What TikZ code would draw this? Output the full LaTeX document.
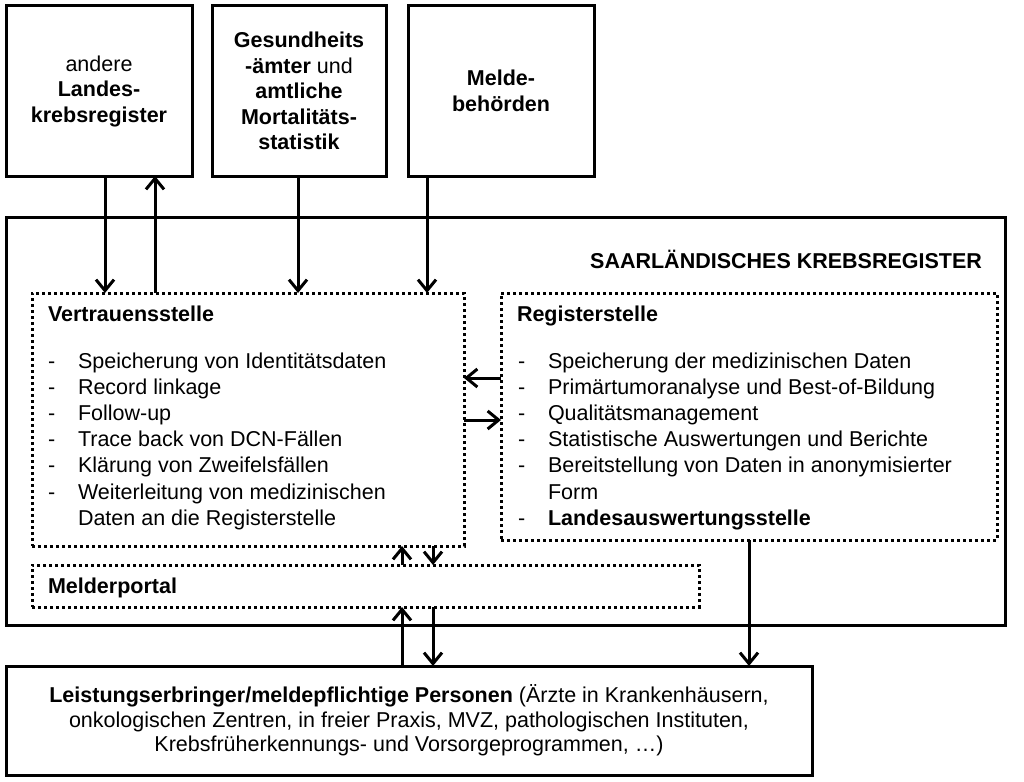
\documentclass[tikz,border=0pt]{standalone}
\usepackage{fontspec}
\setmainfont{Liberation Sans}
\usetikzlibrary{arrows.meta}
\begin{document}
\begin{tikzpicture}[x=1pt,y=-1pt,
  every node/.style={font=\fontsize{21.5}{25.5}\selectfont, inner sep=0pt, outer sep=0pt},
  solidbox/.style={draw, line width=3pt, rectangle, align=center},
  dotbox/.style={draw, line width=3pt, dash pattern=on 3pt off 3pt, rectangle},
  arr/.style={line width=3pt, -{Straight Barb[length=11pt,width=18pt]}},
  txt/.style={anchor=base west},
]
\useasboundingbox (0,0) rectangle (1024,781);

% top boxes
\node[solidbox, minimum width=186pt, minimum height=170pt] (lkr) at (99,91)
  {andere\\\textbf{Landes-}\\\textbf{krebsregister}};
\node[solidbox, minimum width=174pt, minimum height=170pt] (ges) at (299,91)
  {\textbf{Gesundheits}\\\textbf{-ämter} und\\\textbf{amtliche}\\\textbf{Mortalitäts-}\\\textbf{statistik}};
\node[solidbox, minimum width=186pt, minimum height=170pt] (mel) at (501,91)
  {\textbf{Melde-}\\\textbf{behörden}};

% big register box
\node[solidbox, minimum width=999pt, minimum height=408pt] (skr) at (505.5,421) {};
\node[anchor=base east] (title) at (982,268) {\textbf{SAARLÄNDISCHES KREBSREGISTER}};

% inner dotted boxes
\node[dotbox, minimum width=432pt, minimum height=253pt] (vst) at (248,419.5) {};
\node[dotbox, minimum width=496pt, minimum height=247pt] (rst) at (749,416.5) {};
\node[dotbox, minimum width=667pt, minimum height=42pt] (mp) at (365.5,586) {};

% bottom box
\node[solidbox, minimum width=806pt, minimum height=109pt, font=\fontsize{21.5}{24.5}\selectfont] (leist) at (409,720.5)
  {\textbf{Leistungserbringer/meldepflichtige Personen} (Ärzte in Krankenhäusern,\\
   onkologischen Zentren, in freier Praxis, MVZ, pathologischen Instituten,\\
   Krebsfrüherkennungs- und Vorsorgeprogrammen, …)};

% Vertrauensstelle text
\node[txt] (vh) at (48,321) {\textbf{Vertrauensstelle}};
\node[txt] (vd1) at (48,368) {-};
\node[txt] (vt1) at (78,368) {Speicherung von Identitätsdaten};
\node[txt] (vd2) at (48,394.2) {-};
\node[txt] (vt2) at (78,394.2) {Record linkage};
\node[txt] (vd3) at (48,420.4) {-};
\node[txt] (vt3) at (78,420.4) {Follow-up};
\node[txt] (vd4) at (48,446.6) {-};
\node[txt] (vt4) at (78,446.6) {Trace back von DCN-Fällen};
\node[txt] (vd5) at (48,472.8) {-};
\node[txt] (vt5) at (78,472.8) {Klärung von Zweifelsfällen};
\node[txt] (vd6) at (48,499) {-};
\node[txt] (vt6) at (78,499) {Weiterleitung von medizinischen};
\node[txt] (vt7) at (78,525.2) {Daten an die Registerstelle};

% Registerstelle text
\node[txt] (rh) at (517,321) {\textbf{Registerstelle}};
\node[txt] (rd1) at (518,368) {-};
\node[txt] (rt1) at (548,368) {Speicherung der medizinischen Daten};
\node[txt] (rd2) at (518,394.2) {-};
\node[txt] (rt2) at (548,394.2) {Primärtumoranalyse und Best-of-Bildung};
\node[txt] (rd3) at (518,420.4) {-};
\node[txt] (rt3) at (548,420.4) {Qualitätsmanagement};
\node[txt] (rd4) at (518,446.6) {-};
\node[txt] (rt4) at (548,446.6) {Statistische Auswertungen und Berichte};
\node[txt] (rd5) at (518,472.8) {-};
\node[txt] (rt5) at (548,472.8) {Bereitstellung von Daten in anonymisierter};
\node[txt] (rt6) at (548,499) {Form};
\node[txt] (rd7) at (518,525.2) {-};
\node[txt] (rt7) at (548,525.2) {\textbf{Landesauswertungsstelle}};

% Melderportal text
\node[txt] (mph) at (48,593) {\textbf{Melderportal}};

% arrow helper coordinates
\coordinate (x1) at (105,0);
\coordinate (x2) at (155,0);
\coordinate (x3) at (298,0);
\coordinate (x4) at (427,0);
\coordinate (x5) at (402,0);
\coordinate (x6) at (433,0);
\coordinate (x7) at (749,0);
\coordinate (y1) at (0,378);
\coordinate (y2) at (0,420);

% arrows
\draw[arr] (lkr.south -| x1) -- (vst.north -| x1);
\draw[arr] (vst.north -| x2) -- (lkr.south -| x2);
\draw[arr] (ges.south -| x3) -- (vst.north -| x3);
\draw[arr] (mel.south -| x4) -- (vst.north -| x4);
\draw[arr] (rst.west |- y1) -- (vst.east |- y1);
\draw[arr] (vst.east |- y2) -- (rst.west |- y2);
\draw[arr] (mp.north -| x5) -- (vst.south -| x5);
\draw[arr] (vst.south -| x6) -- (mp.north -| x6);
\draw[arr] (leist.north -| x5) -- (mp.south -| x5);
\draw[arr] (mp.south -| x6) -- (leist.north -| x6);
\draw[arr] (rst.south -| x7) -- (leist.north -| x7);
\end{tikzpicture}
\end{document}
